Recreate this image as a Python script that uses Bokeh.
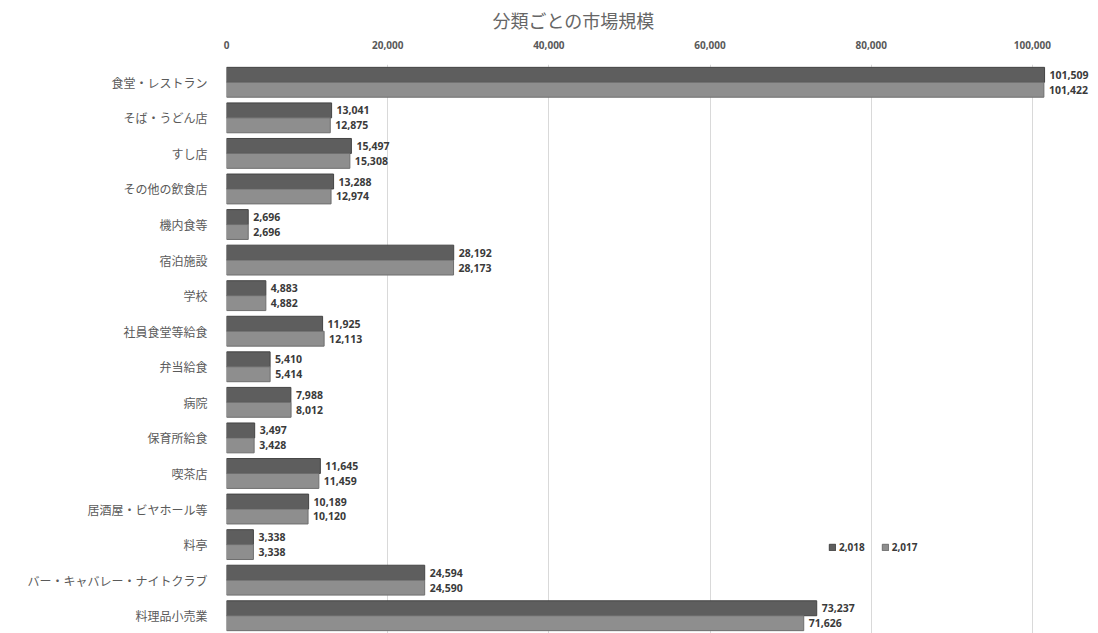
from bokeh.plotting import figure
from bokeh.models import (ColumnDataSource, FactorRange, Range1d, FixedTicker,
                          NumeralTickFormatter, Legend, LegendItem)
from bokeh.transform import dodge
from bokeh.core.properties import value
from bokeh.embed import file_html
from bokeh.resources import INLINE

title_text = "分類ごとの市場規模"
categories = ["食堂・レストラン", "そば・うどん店", "すし店", "その他の飲食店", "機内食等",
              "宿泊施設", "学校", "社員食堂等給食", "弁当給食", "病院", "保育所給食",
              "喫茶店", "居酒屋・ビヤホール等", "料亭", "バー・キャバレー・ナイトクラブ",
              "料理品小売業"]
v2018 = [101509, 13041, 15497, 13288, 2696, 28192, 4883, 11925, 5410, 7988, 3497,
         11645, 10189, 3338, 24594, 73237]
v2017 = [101422, 12875, 15308, 12974, 2696, 28173, 4882, 12113, 5414, 8012, 3428,
         11459, 10120, 3338, 24590, 71626]
series_names = ["2,018", "2,017"]
x_ticks = [0, 20000, 40000, 60000, 80000, 100000]

src = ColumnDataSource(dict(
    cat=categories, v18=v2018, v17=v2017,
    l18=[f"{v:,}" for v in v2018], l17=[f"{v:,}" for v in v2017]))

p = figure(width=1098, height=633,
           y_range=FactorRange(factors=categories[::-1]),
           x_range=Range1d(0, 108200),
           x_axis_location="above",
           output_backend="svg", toolbar_location=None,
           min_border_left=226, min_border_top=64, min_border_bottom=0,
           min_border_right=0)
p.outline_line_color = None

p.title.text = title_text
p.title.align = "left"
p.title.offset = 266
p.title.text_font = "Noto Sans CJK JP"
p.title.text_font_size = "18px"
p.title.text_font_style = "normal"
p.title.text_color = "#666666"
p.title.standoff = 9

dark = "#5e5e5e"
light = "#8e8e8e"
r18 = p.hbar(y=dodge("cat", 0.21, range=p.y_range), right="v18", left=0, height=0.42,
             source=src, fill_color=dark, line_color="#444444", line_width=1)
r17 = p.hbar(y=dodge("cat", -0.21, range=p.y_range), right="v17", left=0, height=0.42,
             source=src, fill_color=light, line_color="#6e6e6e", line_width=1)

lab_kw = dict(source=src, x_offset=5, text_baseline="middle", text_align="left",
              text_font=value("Noto Sans"), text_font_style="bold",
              text_font_size="10.5px", text_color="#3a3a3a")
p.text(x="v18", y=dodge("cat", 0.21, range=p.y_range), text="l18", **lab_kw)
p.text(x="v17", y=dodge("cat", -0.21, range=p.y_range), text="l17", **lab_kw)

p.xaxis.ticker = FixedTicker(ticks=x_ticks)
p.xaxis.formatter = NumeralTickFormatter(format="0,0")
p.xaxis.axis_line_color = None
p.xaxis.major_tick_line_color = None
p.xaxis.minor_tick_line_color = None
p.xaxis.major_label_text_font = "Noto Sans"
p.xaxis.major_label_text_font_style = "bold"
p.xaxis.major_label_text_font_size = "10px"
p.xaxis.major_label_text_color = "#595959"
p.xaxis.major_label_standoff = 10

p.yaxis.axis_line_color = None
p.yaxis.major_tick_line_color = None
p.yaxis.minor_tick_line_color = None
p.yaxis.major_label_text_font = "Noto Sans CJK JP"
p.yaxis.major_label_text_font_size = "12px"
p.yaxis.major_label_text_color = "#5a5a5a"
p.yaxis.major_label_standoff = 13

p.ygrid.grid_line_color = None
p.xgrid.grid_line_color = "#d9d9d9"
p.xgrid.grid_line_width = 1

legend = Legend(items=[LegendItem(label=series_names[0], renderers=[r18]),
                       LegendItem(label=series_names[1], renderers=[r17])],
                orientation="horizontal", location=(602, 79),
                glyph_width=8, glyph_height=8, label_standoff=3, spacing=16,
                padding=0, margin=0, border_line_color=None, background_fill_alpha=0,
                label_text_font="Noto Sans", label_text_font_style="bold",
                label_text_font_size="10px", label_text_color="#3a3a3a")
p.add_layout(legend)

open("out.html", "w").write(file_html(p, INLINE))
